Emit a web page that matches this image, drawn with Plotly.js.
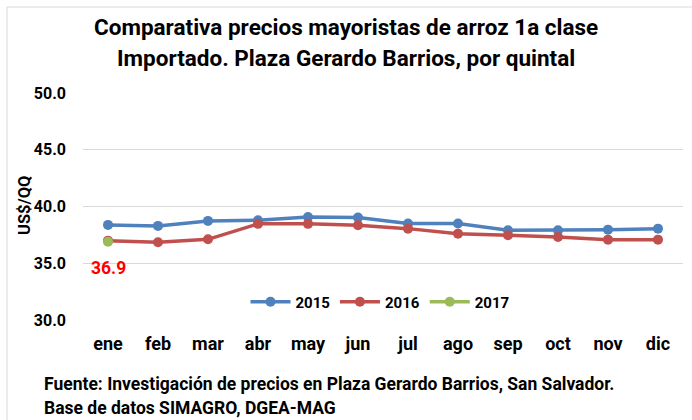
<!DOCTYPE html>
<html>
<head>
<meta charset="utf-8">
<script src="https://cdn.plot.ly/plotly-3.0.1.min.js"></script>
<style>html,body{margin:0;padding:0;background:#fff;}#chart{width:692px;height:420px;}</style>
</head>
<body>
<div id="chart"></div>
<script>
const months = ["ene","feb","mar","abr","may","jun","jul","ago","sep","oct","nov","dic"];
const s2015 = [38.38, 38.29, 38.73, 38.79, 39.08, 39.02, 38.50, 38.50, 37.90, 37.90, 37.96, 38.05];
const s2016 = [36.99, 36.85, 37.11, 38.47, 38.47, 38.35, 38.05, 37.61, 37.47, 37.32, 37.08, 37.08];
const s2017 = [36.9];
const yTicks = [30, 35, 40, 45, 50];
const yTickText = ["30.0", "35.0", "40.0", "45.0", "50.0"];

const F = "Roboto, 'Open Sans', sans-serif";
function tr(name, y, color) {
  return {
    x: months.slice(0, y.length), y: y, name: name, type: "scatter", mode: "lines+markers",
    line: {color: color, width: 3.5}, marker: {color: color, size: 10}
  };
}
const data = [tr("2015", s2015, "#4F81BD"), tr("2016", s2016, "#C0504D"), tr("2017", s2017, "#9BBB59")];

const px = v => (v - 83) / 600;
const py = v => (320 - v) / 227;

const layout = {
  width: 692, height: 420,
  margin: {l: 83, r: 9, t: 93, b: 100},
  paper_bgcolor: "#fff", plot_bgcolor: "#fff",
  font: {family: F, color: "#000"},
  showlegend: true,
  legend: {orientation: "h", x: 0.495, xanchor: "center", y: 0.079, yanchor: "middle",
           font: {family: F, size: 15, weight: "bold"}, bgcolor: "rgba(0,0,0,0)", itemwidth: 40},
  xaxis: {type: "category", range: [-0.5, 11.5], showgrid: false, zeroline: false, showline: false,
          ticks: "", tickfont: {family: F, size: 18, weight: "bold"}, ticklabelstandoff: 11, fixedrange: true},
  yaxis: {range: [30, 50], tickvals: yTicks, ticktext: yTickText, showgrid: true, gridcolor: "#d9d9d9",
          gridwidth: 1, zeroline: false, showline: false, ticks: "",
          tickfont: {family: F, size: 16, weight: "bold"}, ticklabelstandoff: 16},
  shapes: [{type: "rect", xref: "paper", yref: "paper", x0: px(7), x1: px(700), y0: py(430), y1: py(7),
            line: {color: "#d9d9d9", width: 1}, fillcolor: "rgba(0,0,0,0)", layer: "below"}],
  annotations: [
    {xref: "paper", yref: "paper", x: px(346), y: py(27), xanchor: "center", yanchor: "middle",
     text: "Comparativa precios mayoristas de arroz 1a clase", showarrow: false,
     font: {family: F, size: 22.5, weight: "bold"}},
    {xref: "paper", yref: "paper", x: px(346), y: py(58), xanchor: "center", yanchor: "middle",
     text: "Importado. Plaza Gerardo Barrios, por quintal", showarrow: false,
     font: {family: F, size: 22.5, weight: "bold"}},
    {xref: "paper", yref: "paper", x: px(24), y: py(206), xanchor: "center", yanchor: "middle",
     text: "US$/QQ", textangle: -90, showarrow: false,
     font: {family: F, size: 16.5, weight: "bold"}},
    {x: "ene", y: s2017[0], text: s2017[0].toFixed(1), showarrow: false, yshift: -26,
     font: {family: F, size: 17.5, weight: "bold", color: "#FF0000"}},
    {xref: "paper", yref: "paper", x: px(42), y: py(384), xanchor: "left", yanchor: "middle",
     text: "Fuente: Investigación de precios en Plaza Gerardo Barrios, San Salvador.", showarrow: false,
     font: {family: F, size: 17.5, weight: "bold"}},
    {xref: "paper", yref: "paper", x: px(42), y: py(408), xanchor: "left", yanchor: "middle",
     text: "Base de datos SIMAGRO, DGEA-MAG", showarrow: false,
     font: {family: F, size: 17.5, weight: "bold"}}
  ]
};
Plotly.newPlot("chart", data, layout, {displayModeBar: false, staticPlot: true});
</script>
</body>
</html>
